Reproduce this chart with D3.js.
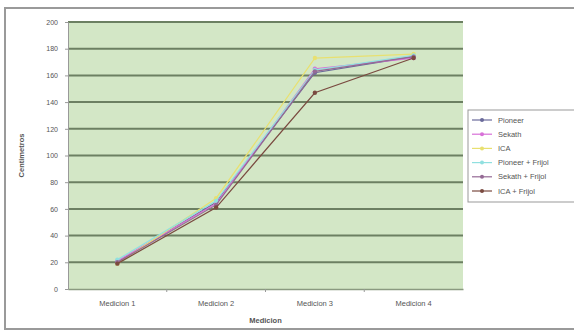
<!DOCTYPE html>
<meta charset="utf-8">
<style>
    body { margin: 0; background: #fff; }
    .chart text { font-family: "Liberation Sans", Arial, sans-serif; fill: #555; }
</style>
<svg class="chart"></svg>
<script src="https://cdn.jsdelivr.net/npm/d3@7/dist/d3.min.js"></script>
<script>

    var categories = ["Medicion 1", "Medicion 2", "Medicion 3", "Medicion 4"];
    var seriesNames = ["Pioneer", "Sekath", "ICA", "Pioneer + Frijol", "Sekath + Frijol", "ICA + Frijol"];
    var pioneer = [20, 65, 162, 174];
    var sekath = [21, 64, 165, 173];
    var ica = [19, 68, 173, 176];
    var pioneerFrijol = [22, 66, 164, 175];
    var sekathFrijol = [20, 63, 163, 174];
    var icaFrijol = [19, 61, 147, 173];
    var yTicks = [0, 20, 40, 60, 80, 100, 120, 140, 160, 180, 200];

    var colors = ["#6a6a9a", "#d870d8", "#e8e070", "#90e0e0", "#956a95", "#7a4a40"];
    var allValues = [pioneer, sekath, ica, pioneerFrijol, sekathFrijol, icaFrijol];

    var width = 574, height = 332;
    var plot = { left: 68, right: 463, top: 22, bottom: 289 };

    var svg = d3.select(".chart")
        .attr("width", width)
        .attr("height", height);

    // outer chart border
    svg.append("rect")
        .attr("x", 5).attr("y", 8)
        .attr("width", 580).attr("height", 321)
        .attr("fill", "#fff")
        .attr("stroke", "#9a9a9a")
        .attr("stroke-width", 2);

    var x = d3.scaleBand()
        .domain(categories)
        .range([plot.left, plot.right]);

    var y = d3.scaleLinear()
        .domain([0, 200])
        .range([plot.bottom, plot.top]);

    svg.append("rect")
        .attr("x", plot.left).attr("y", plot.top)
        .attr("width", plot.right - plot.left)
        .attr("height", plot.bottom - plot.top)
        .attr("fill", "#d3e7c6");

    // gridlines
    svg.append("g")
        .selectAll("line")
        .data(yTicks.filter(function(d) { return d > 0; }))
        .enter().append("line")
        .attr("x1", plot.left).attr("x2", plot.right)
        .attr("y1", function(d) { return y(d); })
        .attr("y2", function(d) { return y(d); })
        .attr("stroke", "#6c8062")
        .attr("stroke-width", 2);

    // y axis
    var yAxis = svg.append("g")
        .attr("transform", "translate(" + plot.left + ",0)")
        .call(d3.axisLeft(y).tickValues(yTicks).tickSize(3).tickPadding(7));
    yAxis.select(".domain").attr("stroke", "#999");
    yAxis.selectAll(".tick line").attr("stroke", "#999");
    yAxis.selectAll("text").style("font-size", "7px").attr("fill", "#777");

    // x axis
    var xAxis = svg.append("g")
        .attr("transform", "translate(0," + plot.bottom + ")")
        .call(d3.axisBottom(x).tickSize(0).tickPadding(12));
    xAxis.select(".domain").attr("stroke", "#8a9a80").attr("stroke-width", 1.5);
    xAxis.selectAll("text").style("font-size", "7.5px").attr("fill", "#777");
    svg.append("g")
        .selectAll("line")
        .data(categories.slice(1))
        .enter().append("line")
        .attr("x1", function(d) { return x(d); })
        .attr("x2", function(d) { return x(d); })
        .attr("y1", plot.bottom).attr("y2", plot.bottom + 3)
        .attr("stroke", "#999");

    svg.append("text")
        .attr("x", (plot.left + plot.right) / 2)
        .attr("y", 323)
        .attr("text-anchor", "middle")
        .style("font-size", "7.5px")
        .style("font-weight", "bold")
        .attr("fill", "#666")
        .text("Medicion");

    svg.append("text")
        .attr("transform", "translate(24," + ((plot.top + plot.bottom) / 2) + ") rotate(-90)")
        .attr("text-anchor", "middle")
        .style("font-size", "7.5px")
        .style("font-weight", "bold")
        .attr("fill", "#666")
        .text("Centimetros");

    var line = d3.line()
        .x(function(d, i) { return x(categories[i]) + x.bandwidth() / 2; })
        .y(function(d) { return y(d); });

    var series = svg.append("g").selectAll("g")
        .data(allValues)
        .enter().append("g");

    series.append("path")
        .attr("d", function(d) { return line(d); })
        .attr("fill", "none")
        .attr("stroke", function(d, i) { return colors[i]; })
        .attr("stroke-width", 1.2);

    series.selectAll("circle")
        .data(function(d, i) { return d.map(function(v) { return { v: v, c: colors[i] }; }); })
        .enter().append("circle")
        .attr("cx", function(d, i) { return x(categories[i]) + x.bandwidth() / 2; })
        .attr("cy", function(d) { return y(d.v); })
        .attr("r", 2.2)
        .attr("fill", function(d) { return d.c; });

    // legend
    var legend = svg.append("g");
    legend.append("rect")
        .attr("x", 468).attr("y", 110)
        .attr("width", 120).attr("height", 92)
        .attr("fill", "#fff")
        .attr("stroke", "#999");

    var item = legend.selectAll("g")
        .data(seriesNames)
        .enter().append("g")
        .attr("transform", function(d, i) { return "translate(0," + (120 + i * 14.2) + ")"; });
    item.append("line")
        .attr("x1", 472).attr("x2", 492)
        .attr("stroke", function(d, i) { return colors[i]; })
        .attr("stroke-width", 1.2);
    item.append("circle")
        .attr("cx", 482).attr("r", 2)
        .attr("fill", function(d, i) { return colors[i]; });
    item.append("text")
        .attr("x", 498).attr("dy", "0.35em")
        .style("font-size", "7.5px")
        .attr("fill", "#666")
        .text(function(d) { return d; });

</script>
